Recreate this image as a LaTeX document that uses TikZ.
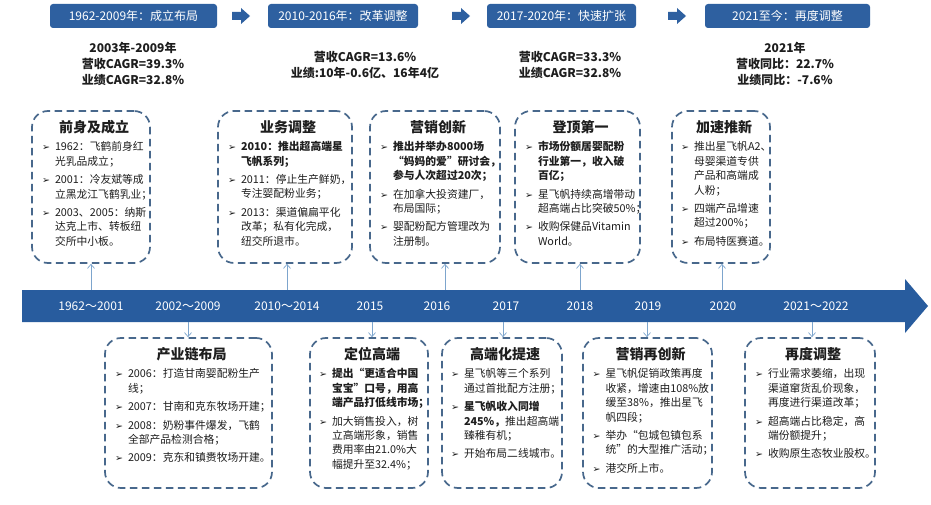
\documentclass[tikz,border=0pt]{standalone}
\usepackage{fontspec}
\setmainfont{Noto Sans CJK SC}
\newfontfamily\dejavu{DejaVu Sans}
\usetikzlibrary{calc,arrows.meta}
\definecolor{hdrcol}{RGB}{46,96,160}
\definecolor{barcol}{RGB}{40,92,158}
\definecolor{dashcol}{RGB}{72,104,140}
\definecolor{conncol}{RGB}{125,165,205}
\definecolor{txtcol}{RGB}{30,30,30}
\newcommand\bul{{\dejavu\fontsize{9.5}{9.5}\selectfont ➢}}
\newcommand\itm[1]{\par\noindent\hangindent=13pt\hangafter=1\makebox[13pt][l]{\bul}{#1}\par\vspace{4pt}}
\newcommand\ttl[1]{{\centering\bfseries\fontsize{14}{17}\selectfont #1\par}\vspace{4pt}}
\tikzset{
 hdrbox/.style={fill=hdrcol, rounded corners=3pt, text=white, font=\fontsize{12}{14}\selectfont, inner sep=0pt, minimum height=24pt},
 dbox/.style={draw=dashcol, line width=1.7pt, dash pattern=on 7.5pt off 4.5pt, rounded corners=16pt, inner sep=0pt},
 body/.style={anchor=north, inner sep=0pt, text=txtcol, font=\fontsize{10.8}{14.4}\selectfont},
 stat/.style={font=\bfseries\fontsize{12}{16}\selectfont, align=center, text=txtcol},
 yr/.style={text=white, font=\fontsize{12}{14}\selectfont},
 conn/.style={draw=conncol, line width=0.7pt, -{Straight Barb[length=4pt,width=7pt]}},
 blockarr/.style={fill=hdrcol},
}
\begin{document}
\begin{tikzpicture}[x=1pt,y=-1pt]
\fill[white] (0,0) rectangle (931,505);
\useasboundingbox (0,0) rectangle (931,505);

% header boxes
\node[hdrbox, minimum width=167pt] (h1) at (133.5,16) {1962-2009年：成立布局};
\node[hdrbox, minimum width=150pt] (h2) at (343,16) {2010-2016年：改革调整};
\node[hdrbox, minimum width=149pt] (h3) at (561.5,16) {2017-2020年：快速扩张};
\node[hdrbox, minimum width=165pt] (h4) at (787.5,16) {2021至今：再度调整};
% block arrows
\foreach \ax in {232,452,668}{
  \fill[blockarr] (\ax,12) -- (\ax+9,12) -- (\ax+9,8) -- (\ax+18,16) -- (\ax+9,24) -- (\ax+9,20) -- (\ax,20) -- cycle;
}

% stats
\node[stat] (s1) at (133,64) {2003年-2009年\\营收CAGR=39.3\%\\业绩CAGR=32.8\%};
\node[stat] (s2) at (365,65) {营收CAGR=13.6\%\\业绩:10年-0.6亿、16年4亿};
\node[stat] (s3) at (570,65) {营收CAGR=33.3\%\\业绩CAGR=32.8\%};
\node[stat] (s4) at (785,64) {2021年\\营收同比：22.7\%\\业绩同比：-7.6\%};

% timeline bar
\fill[barcol] (22,290) -- (905,290) -- (905,279) -- (928,306) -- (905,333) -- (905,322) -- (22,322) -- cycle;
\node[yr] (y1) at (91,306) {1962～2001};
\node[yr] (y2) at (188,306) {2002～2009};
\node[yr] (y3) at (287,306) {2010～2014};
\node[yr] (y4) at (370,306) {2015};
\node[yr] (y5) at (437,306) {2016};
\node[yr] (y6) at (506,306) {2017};
\node[yr] (y7) at (580,306) {2018};
\node[yr] (y8) at (648,306) {2019};
\node[yr] (y9) at (723,306) {2020};
\node[yr] (y10) at (816,306) {2021～2022};

% upper boxes
\node[dbox, minimum width=118pt, minimum height=152pt] (A) at (91,187) {};
\node[dbox, minimum width=134pt, minimum height=152pt] (B) at (285,187) {};
\node[dbox, minimum width=130pt, minimum height=152pt] (C) at (435,187) {};
\node[dbox, minimum width=125pt, minimum height=152pt] (D) at (577.5,187) {};
\node[dbox, minimum width=98pt, minimum height=152pt] (E) at (721,187) {};
% lower boxes
\node[dbox, minimum width=167pt, minimum height=150pt] (F) at (188.5,413) {};
\node[dbox, minimum width=118pt, minimum height=150pt] (G) at (369,413) {};
\node[dbox, minimum width=120pt, minimum height=150pt] (H) at (502,413) {};
\node[dbox, minimum width=129pt, minimum height=150pt] (I) at (647.5,413) {};
\node[dbox, minimum width=130pt, minimum height=150pt] (J) at (810,413) {};

% contents
\node[body, text width=104pt] (Ac) at ($(A.north)+(3,10)$) {\ttl{前身及成立}
\itm{1962：飞鹤前身红\newline 光乳品成立；}
\itm{2001：冷友斌等成\newline 立黑龙江飞鹤乳业；}
\itm{2003、2005：纳斯\newline 达克上市、转板纽\newline 交所中小板。}};

\node[body, text width=120pt] (Bc) at ($(B.north)+(3,10)$) {\ttl{业务调整}
\itm{\bfseries 2010：推出超高端星\newline 飞帆系列；}
\itm{2011：停止生产鲜奶，\newline 专注婴配粉业务；}
\itm{2013：渠道偏扁平化\newline 改革；私有化完成，\newline 纽交所退市。}};

\node[body, text width=116pt] (Cc) at ($(C.north)+(3,10)$) {\ttl{营销创新}
\itm{\bfseries 推出并举办8000场\newline “妈妈的爱”研讨会，\newline 参与人次超过20次；}
\itm{在加拿大投资建厂，\newline 布局国际；}
\itm{婴配粉配方管理改为\newline 注册制。}};

\node[body, text width=111pt] (Dc) at ($(D.north)+(3,10)$) {\ttl{登顶第一}
\itm{\bfseries 市场份额居婴配粉\newline 行业第一，收入破\newline 百亿；}
\itm{星飞帆持续高增带动\newline 超高端占比突破50\%；}
\itm{收购保健品Vitamin\newline World。}};

\node[body, text width=86pt] (Ec) at ($(E.north)+(3,10)$) {\ttl{加速推新}
\itm{推出星飞帆A2、\newline 母婴渠道专供\newline 产品和高端成\newline 人粉；}
\itm{四端产品增速\newline 超过200\%；}
\itm{布局特医赛道。}};

\node[body, text width=153pt] (Fc) at ($(F.north)+(3,10)$) {\ttl{产业链布局}
\itm{2006：打造甘南婴配粉生产\newline 线；}
\itm{2007：甘南和克东牧场开建；}
\itm{2008：奶粉事件爆发，飞鹤\newline 全部产品检测合格；}
\itm{2009：克东和镇赉牧场开建。}};

\node[body, text width=106pt] (Gc) at ($(G.north)+(3,10)$) {\ttl{定位高端}
\itm{\bfseries 提出“更适合中国\newline 宝宝”口号，用高\newline 端产品打低线市场；}
\itm{加大销售投入，树\newline 立高端形象，销售\newline 费用率由21.0\%大\newline 幅提升至32.4\%；}};

\node[body, text width=108pt] (Hc) at ($(H.north)+(3,10)$) {\ttl{高端化提速}
\itm{星飞帆等三个系列\newline 通过首批配方注册；}
\itm{\bfseries 星飞帆收入同增\newline 245\%，\mdseries 推出超高端\newline 臻稚有机；}
\itm{开始布局二线城市。}};

\node[body, text width=116pt] (Ic) at ($(I.north)+(3,10)$) {\ttl{营销再创新}
\itm{星飞帆促销政策再度\newline 收紧，增速由108\%放\newline 缓至38\%，推出星飞\newline 帆四段；}
\itm{举办“包城包镇包系\newline 统”的大型推广活动；}
\itm{港交所上市。}};

\node[body, text width=116pt] (Jc) at ($(J.north)+(3,10)$) {\ttl{再度调整}
\itm{行业需求萎缩，出现\newline 渠道窜货乱价现象，\newline 再度进行渠道改革；}
\itm{超高端占比稳定，高\newline 端份额提升；}
\itm{收购原生态牧业股权。}};

% connectors
\coordinate (uA) at (91,290);
\coordinate (uB) at (287,290);
\coordinate (uC) at (445,290);
\coordinate (uD) at (580,290);
\coordinate (uE) at (722,290);
\coordinate (dF) at (188,322);
\coordinate (dG) at (372,322);
\coordinate (dH) at (503,322);
\coordinate (dI) at (647,322);
\coordinate (dJ) at (812,322);
\foreach \c/\b in {uA/A,uB/B,uC/C,uD/D,uE/E}{
  \draw[conn] (\c) -- (\c |- \b.south);
}
\foreach \c/\b in {dF/F,dG/G,dH/H,dI/I,dJ/J}{
  \draw[conn] (\c) -- (\c |- \b.north);
}
\end{tikzpicture}
\end{document}
